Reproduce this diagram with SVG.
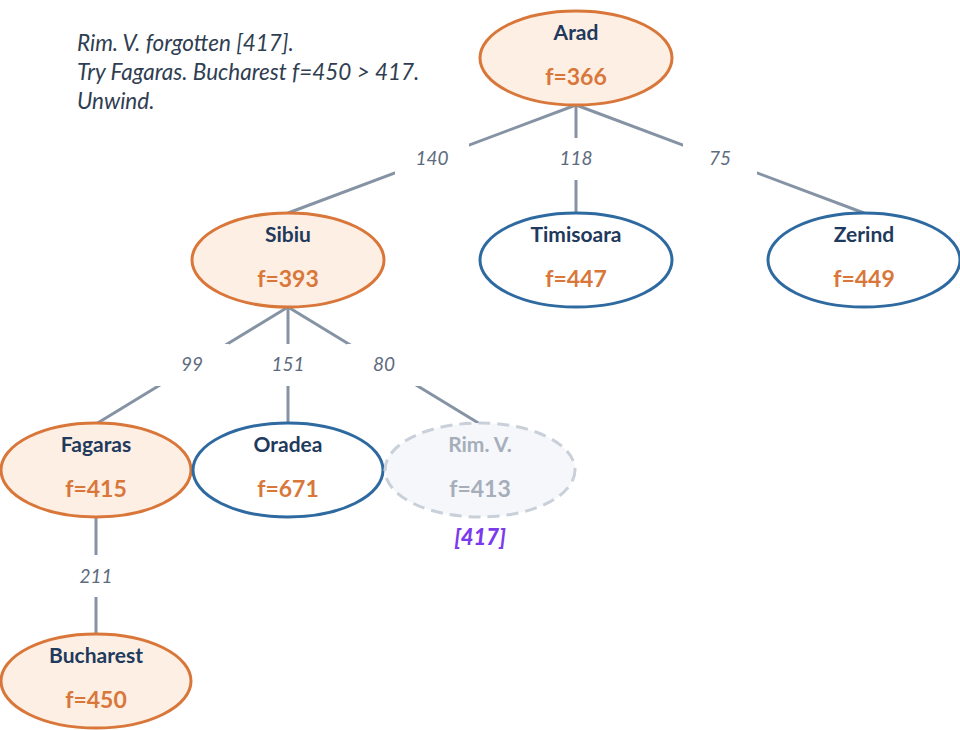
<svg xmlns="http://www.w3.org/2000/svg" width="960" height="730" viewBox="0 0 960 730">
  <style>
    .edge { stroke: #8593a4; stroke-width: 3; fill: none; }
    .lblbg { fill: #ffffff; }
    .elbl { font-family: Lato, "Open Sans", sans-serif; font-style: italic; font-size: 19px; fill: #5d6b7e; text-anchor: middle; }
    .node { stroke-width: 3; }
    .open { fill: #fdefe4; stroke: #d9773a; }
    .seen { fill: #ffffff; stroke: #2e6aa0; }
    .gone { fill: #f5f7fb; stroke: #c9d0d9; stroke-dasharray: 12 7; }
    .name { font-family: Lato, "Open Sans", sans-serif; font-weight: bold; font-size: 21px; fill: #1f3a5c; text-anchor: middle; }
    .fval { font-family: Lato, "Open Sans", sans-serif; font-weight: bold; font-size: 23px; fill: #d9773a; text-anchor: middle; }
    .dim { fill: #a6aeba; }
    .note { font-family: Lato, "Open Sans", sans-serif; font-style: italic; font-size: 22.5px; fill: #2f3e51; }
    .bound { font-family: Lato, "Open Sans", sans-serif; font-style: italic; font-weight: 900; font-size: 22px; fill: #7c3aed; text-anchor: middle; }
  </style>

  <!-- status note -->
  <g id="note">
    <text class="note" x="77" y="51">Rim. V. forgotten [417].</text>
    <text class="note" x="77" y="80">Try Fagaras. Bucharest f=450 &gt; 417.</text>
    <text class="note" x="77" y="109">Unwind.</text>
  </g>

  <!-- connectors with cost labels -->
  <g id="edges">
    <line class="edge" x1="576" y1="105" x2="288" y2="213"/>
    <line class="edge" x1="576" y1="105" x2="576" y2="213"/>
    <line class="edge" x1="576" y1="105" x2="864" y2="213"/>
    <line class="edge" x1="288" y1="307" x2="96" y2="424"/>
    <line class="edge" x1="288" y1="307" x2="288" y2="424"/>
    <line class="edge" x1="288" y1="307" x2="480" y2="424"/>
    <line class="edge" x1="96" y1="517" x2="96" y2="634"/>

    <rect class="lblbg" x="395" y="138" width="74" height="42"/>
    <rect class="lblbg" x="539" y="138" width="74" height="42"/>
    <rect class="lblbg" x="683" y="138" width="74" height="42"/>
    <rect class="lblbg" x="155" y="344" width="74" height="42"/>
    <rect class="lblbg" x="251" y="344" width="74" height="42"/>
    <rect class="lblbg" x="347" y="344" width="74" height="42"/>
    <rect class="lblbg" x="59" y="555" width="74" height="42"/>

    <text class="elbl" x="432" y="165">140</text>
    <text class="elbl" x="576" y="165">118</text>
    <text class="elbl" x="720" y="165">75</text>
    <text class="elbl" x="192" y="371">99</text>
    <text class="elbl" x="288" y="371">151</text>
    <text class="elbl" x="384" y="371">80</text>
    <text class="elbl" x="96" y="583">211</text>
  </g>

  <g id="arad">
    <ellipse class="node open" cx="576" cy="58" rx="96" ry="47"/>
    <text class="name" x="576" y="40">Arad</text>
    <text class="fval" x="576" y="85">f=366</text>
  </g>

  <g id="sibiu">
    <ellipse class="node open" cx="288" cy="260" rx="96" ry="47"/>
    <text class="name" x="288" y="242">Sibiu</text>
    <text class="fval" x="288" y="287">f=393</text>
  </g>

  <g id="timisoara">
    <ellipse class="node seen" cx="576" cy="260" rx="96" ry="47"/>
    <text class="name" x="576" y="242">Timisoara</text>
    <text class="fval" x="576" y="287">f=447</text>
  </g>

  <g id="zerind">
    <ellipse class="node seen" cx="864" cy="260" rx="96" ry="47"/>
    <text class="name" x="864" y="242">Zerind</text>
    <text class="fval" x="864" y="287">f=449</text>
  </g>

  <g id="fagaras">
    <ellipse class="node open" cx="96" cy="470" rx="95" ry="47"/>
    <text class="name" x="96" y="452">Fagaras</text>
    <text class="fval" x="96" y="497">f=415</text>
  </g>

  <g id="oradea">
    <ellipse class="node seen" cx="288" cy="470" rx="95" ry="47"/>
    <text class="name" x="288" y="452">Oradea</text>
    <text class="fval" x="288" y="497">f=671</text>
  </g>

  <g id="rimnicu">
    <ellipse class="node gone" cx="480" cy="470" rx="95" ry="47"/>
    <text class="name dim" x="480" y="452">Rim. V.</text>
    <text class="fval dim" x="480" y="497">f=413</text>
    <text class="bound" x="480" y="545">[417]</text>
  </g>

  <g id="bucharest">
    <ellipse class="node open" cx="96" cy="681" rx="95" ry="47"/>
    <text class="name" x="96" y="663">Bucharest</text>
    <text class="fval" x="96" y="708">f=450</text>
  </g>
</svg>
